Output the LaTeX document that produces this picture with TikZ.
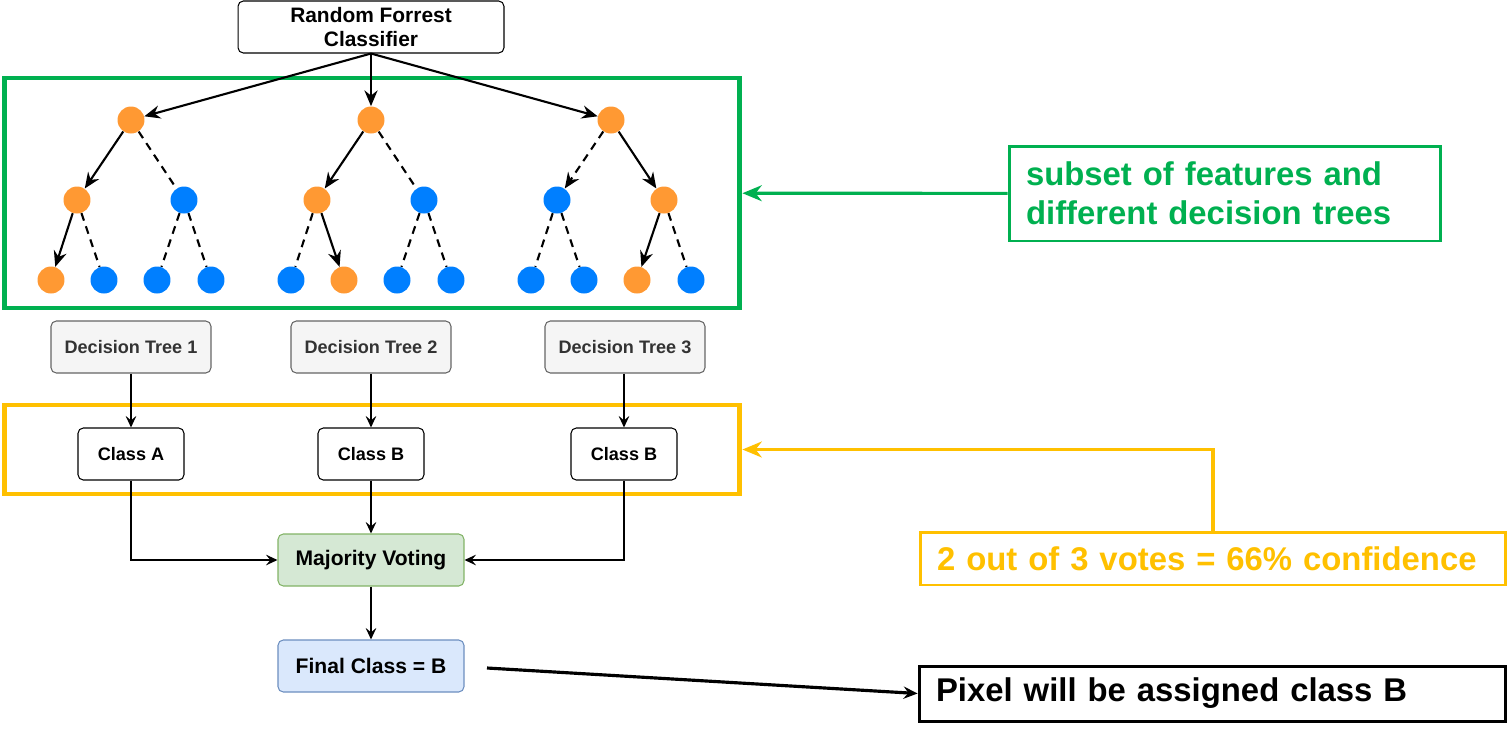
\documentclass[tikz,border=0pt]{standalone}
\usepackage{fontspec}
\setmainfont{Liberation Sans}
\usetikzlibrary{arrows.meta}

\definecolor{grn}{HTML}{00B050}
\definecolor{ylw}{HTML}{FFC000}
\definecolor{org}{HTML}{FF9933}
\definecolor{blu}{HTML}{007FFF}
\definecolor{greyfill}{HTML}{F5F5F5}
\definecolor{greyline}{HTML}{666666}
\definecolor{greytext}{HTML}{333333}
\definecolor{votefill}{HTML}{D5E8D4}
\definecolor{voteline}{HTML}{82B366}
\definecolor{finalfill}{HTML}{DAE8FC}
\definecolor{finalline}{HTML}{6C8EBF}

\begin{document}
\begin{tikzpicture}[x=0.02cm,y=-0.02cm,
	onode/.style={circle,inner sep=0pt,minimum size=0.54cm,fill=org},
	bnode/.style={circle,inner sep=0pt,minimum size=0.54cm,fill=blu},
	taken/.style={-{Stealth[length=9pt,width=7.5pt,inset=3pt]},line width=1.2pt},
	nottaken/.style={line width=1.2pt,dash pattern=on 4.5pt off 3.4pt},
	flow/.style={-{Stealth[length=6.5pt,width=6pt,inset=2.4pt]},line width=1pt},
	box/.style={draw,rounded corners=3pt,line width=0.6pt,minimum height=1.04cm,
		font=\fontsize{10.3}{12}\selectfont\bfseries},
	note/.style={draw,line width=1.7pt,inner xsep=0.34cm,align=left,
		font=\fontsize{18.7}{22}\selectfont\bfseries}
	]

	\useasboundingbox (0,0) rectangle (1509,735);

	% classifier on top
	\node[box,minimum width=5.32cm,align=center,font=\fontsize{11.9}{14}\selectfont\bfseries]
		(rfc) at (371,27) {Random Forrest\\Classifier};

	% green frame with the three trees
	\node[draw=grn,line width=2.8pt,minimum width=14.72cm,minimum height=4.6cm] (gframe) at (372,193) {};

	% tree 1
	\node[onode] (a0) at (131,120) {};
	\node[onode] (a1) at (77,200) {};
	\node[bnode] (a2) at (184,200) {};
	\node[onode] (a11) at (51,280) {};
	\node[bnode] (a12) at (104,280) {};
	\node[bnode] (a21) at (157,280) {};
	\node[bnode] (a22) at (211,280) {};

	% tree 2
	\node[onode] (b0) at (371,120) {};
	\node[onode] (b1) at (317,200) {};
	\node[bnode] (b2) at (424,200) {};
	\node[bnode] (b11) at (291,280) {};
	\node[onode] (b12) at (344,280) {};
	\node[bnode] (b21) at (397,280) {};
	\node[bnode] (b22) at (451,280) {};

	% tree 3
	\node[onode] (c0) at (611,120) {};
	\node[bnode] (c1) at (557,200) {};
	\node[onode] (c2) at (664,200) {};
	\node[bnode] (c11) at (531,280) {};
	\node[bnode] (c12) at (584,280) {};
	\node[onode] (c21) at (637,280) {};
	\node[bnode] (c22) at (691,280) {};

	\draw[taken] (rfc.south) -- (a0);
	\draw[taken] (rfc.south) -- (b0);
	\draw[taken] (rfc.south) -- (c0);

	\draw[taken] (a0) -- (a1);
	\draw[nottaken] (a0) -- (a2);
	\draw[taken] (a1) -- (a11);
	\draw[nottaken] (a1) -- (a12);
	\draw[nottaken] (a2) -- (a21);
	\draw[nottaken] (a2) -- (a22);

	\draw[taken] (b0) -- (b1);
	\draw[nottaken] (b0) -- (b2);
	\draw[nottaken] (b1) -- (b11);
	\draw[taken] (b1) -- (b12);
	\draw[nottaken] (b2) -- (b21);
	\draw[nottaken] (b2) -- (b22);

	\draw[taken,nottaken] (c0) -- (c1);
	\draw[taken] (c0) -- (c2);
	\draw[nottaken] (c1) -- (c11);
	\draw[nottaken] (c1) -- (c12);
	\draw[taken] (c2) -- (c21);
	\draw[nottaken] (c2) -- (c22);

	% decision trees and their classes
	\node[box,fill=greyfill,draw=greyline,text=greytext,minimum width=3.2cm] (d1) at (131,347) {Decision Tree 1};
	\node[box,fill=greyfill,draw=greyline,text=greytext,minimum width=3.2cm] (d2) at (371,347) {Decision Tree 2};
	\node[box,fill=greyfill,draw=greyline,text=greytext,minimum width=3.2cm] (d3) at (625,347) {Decision Tree 3};

	\node[draw=ylw,line width=2.8pt,minimum width=14.72cm,minimum height=1.78cm] (yframe) at (372,449.5) {};

	\node[box,minimum width=2.12cm] (k1) at (131,454) {Class A};
	\node[box,minimum width=2.12cm] (k2) at (371,454) {Class B};
	\node[box,minimum width=2.12cm] (k3) at (624,454) {Class B};

	\draw[flow] (d1) -- (k1);
	\draw[flow] (d2) -- (k2);
	\draw[flow] (d3.south -| k3) -- (k3);

	% voting
	\node[box,fill=votefill,draw=voteline,minimum width=3.72cm,font=\fontsize{12}{14}\selectfont\bfseries]
		(vote) at (371,560) {Majority Voting};
	\node[box,fill=finalfill,draw=finalline,minimum width=3.72cm,font=\fontsize{12}{14}\selectfont\bfseries]
		(final) at (371,666) {Final Class = B};

	\draw[flow] (k1) |- (vote);
	\draw[flow] (k2) -- (vote);
	\draw[flow] (k3) |- (vote);
	\draw[flow] (vote) -- (final);

	% notes on the right
	\node[note,draw=grn,text=grn,text width=7.96cm,minimum height=1.9cm] (gnote) at (1225,193.5)
		{subset of features and\\different decision trees};
	\node[note,draw=ylw,text=ylw,text width=11.04cm,minimum height=1.06cm] (ynote) at (1213,558.5)
		{2 out of 3 votes = 66\% confidence};
	\node[note,draw=black,text width=11.06cm,minimum height=1.1cm] (pnote) at (1212.5,693.5)
		{Pixel will be assigned class B};

	\draw[grn,line width=1.8pt,-{Stealth[length=11pt,width=9pt,inset=3.5pt]}] (gnote) -- (gframe);
	\draw[ylw,line width=2.2pt,-{Stealth[length=11pt,width=9pt,inset=3.5pt]}] (ynote.north) |- (yframe);

	\coordinate (fout) at (487,668);
	\draw[line width=1.8pt,-{Stealth[length=8pt,width=7pt,inset=2.8pt]}] (fout) -- (pnote.west);
\end{tikzpicture}
\end{document}
